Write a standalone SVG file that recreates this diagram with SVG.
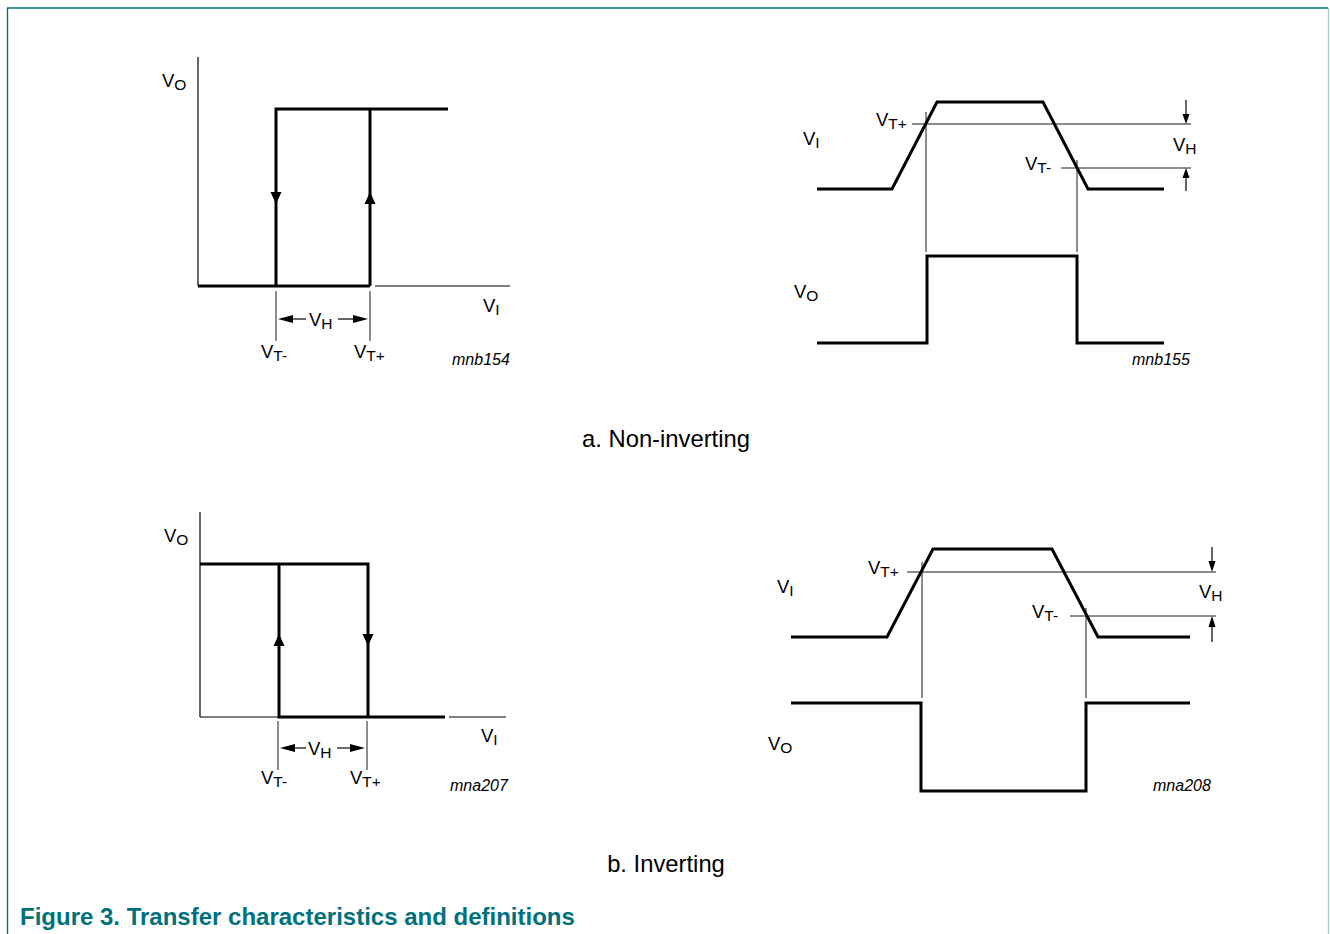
<svg xmlns="http://www.w3.org/2000/svg" width="1330" height="934" viewBox="0 0 1330 934">
<style>
.thick{fill:none;stroke:#000;stroke-width:3;stroke-linejoin:miter;stroke-linecap:butt}
.thin{fill:none;stroke:#000;stroke-width:1.2}
.hair{fill:none;stroke:#000;stroke-width:0.9}
.lbl{font-family:"Liberation Sans",Arial,sans-serif;font-size:18.5px;fill:#000}
.sub{font-size:15.5px}
.code{font-family:"Liberation Sans",Arial,sans-serif;font-size:16px;font-style:italic;fill:#000}
.cap{font-family:"Liberation Sans",Arial,sans-serif;font-size:23.8px;fill:#000}
.fig{font-family:"Liberation Sans",Arial,sans-serif;font-size:24px;font-weight:bold;fill:#00717c}
.ah{fill:#000;stroke:none}
</style>
<rect width="1330" height="934" fill="#fff"/>
<g id="frame">
<line x1="7" y1="8" x2="1328" y2="8" stroke="#00717c" stroke-width="1.6"/>
<line x1="7.5" y1="8" x2="7.5" y2="934" stroke="#00717c" stroke-width="1.4"/>
<line x1="1328.5" y1="8" x2="1328.5" y2="934" stroke="#a9cdd1" stroke-width="1.4"/>
</g>

<g id="panel-a-transfer">
<g id="a-axes">
<line class="thin" x1="198" y1="57" x2="198" y2="286"/>
<line class="thin" x1="375" y1="286" x2="510" y2="286"/>
</g>
<g id="a-loop">
<polyline class="thick" points="198,286 370,286"/>
<polyline class="thick" points="448,109 276,109 276,286"/>
<polyline class="thick" points="370,286 370,109"/>
<polygon class="ah" points="270.5,192 281.5,192 276,204"/>
<polygon class="ah" points="364.5,204 375.5,204 370,192"/>
</g>
<g id="a-vh">
<line class="hair" x1="276" y1="291" x2="276" y2="341"/>
<line class="hair" x1="370" y1="291" x2="370" y2="341"/>
<line class="thin" x1="288" y1="319" x2="306" y2="319"/>
<line class="thin" x1="338" y1="319" x2="358" y2="319"/>
<polygon class="ah" points="278,319 293,315 293,323"/>
<polygon class="ah" points="368,319 353,315 353,323"/>
</g>
<text class="lbl" x="162" y="87">V<tspan class="sub" dy="3">O</tspan></text>
<text class="lbl" x="483" y="312">V<tspan class="sub" dy="3">I</tspan></text>
<text class="lbl" x="309" y="326">V<tspan class="sub" dy="3">H</tspan></text>
<text class="lbl" x="261" y="358">V<tspan class="sub" dy="3">T-</tspan></text>
<text class="lbl" x="354" y="358">V<tspan class="sub" dy="3">T+</tspan></text>
<text class="code" x="452" y="365">mnb154</text>
</g>

<g id="panel-a-timing">
<g id="a-vi">
<polyline class="thick" points="817,189 892,189 937,102 1043,102 1088,189 1164,189"/>
<line class="hair" x1="912" y1="124" x2="1191" y2="124"/>
<line class="hair" x1="1061" y1="168" x2="1191" y2="168"/>
<line class="thin" x1="1186" y1="100" x2="1186" y2="116"/>
<polygon class="ah" points="1182.5,114 1189.5,114 1186,124"/>
<line class="thin" x1="1186" y1="178" x2="1186" y2="191"/>
<polygon class="ah" points="1182.5,178 1189.5,178 1186,168"/>
</g>
<g id="a-guides">
<line class="hair" x1="926" y1="112" x2="926" y2="252"/>
<line class="hair" x1="1077" y1="160" x2="1077" y2="252"/>
</g>
<g id="a-vo">
<polyline class="thick" points="817,343 927,343 927,256 1077,256 1077,343 1164,343"/>
</g>
<text class="lbl" x="876" y="126">V<tspan class="sub" dy="3">T+</tspan></text>
<text class="lbl" x="803" y="145">V<tspan class="sub" dy="3">I</tspan></text>
<text class="lbl" x="1173" y="151">V<tspan class="sub" dy="3">H</tspan></text>
<text class="lbl" x="1025" y="170">V<tspan class="sub" dy="3">T-</tspan></text>
<text class="lbl" x="794" y="298">V<tspan class="sub" dy="3">O</tspan></text>
<text class="code" x="1132" y="365">mnb155</text>
</g>

<text class="cap" x="666" y="447" text-anchor="middle">a. Non-inverting</text>

<g id="panel-b-transfer">
<g id="b-axes">
<line class="thin" x1="200" y1="512" x2="200" y2="717"/>
<line class="thin" x1="200" y1="717" x2="279" y2="717"/>
<line class="thin" x1="449" y1="717" x2="506" y2="717"/>
</g>
<g id="b-loop">
<polyline class="thick" points="200,564 368,564 368,717"/>
<polyline class="thick" points="279,564 279,717 445,717"/>
<polygon class="ah" points="273.5,646 284.5,646 279,634"/>
<polygon class="ah" points="362.5,634 373.5,634 368,646"/>
</g>
<g id="b-vh">
<line class="hair" x1="278" y1="721" x2="278" y2="770"/>
<line class="hair" x1="367" y1="721" x2="367" y2="770"/>
<line class="thin" x1="290" y1="748" x2="306" y2="748"/>
<line class="thin" x1="337" y1="748" x2="355" y2="748"/>
<polygon class="ah" points="280,748 295,744 295,752"/>
<polygon class="ah" points="365,748 350,744 350,752"/>
</g>
<text class="lbl" x="164" y="542">V<tspan class="sub" dy="3">O</tspan></text>
<text class="lbl" x="481" y="742">V<tspan class="sub" dy="3">I</tspan></text>
<text class="lbl" x="308" y="755">V<tspan class="sub" dy="3">H</tspan></text>
<text class="lbl" x="261" y="784">V<tspan class="sub" dy="3">T-</tspan></text>
<text class="lbl" x="350" y="784">V<tspan class="sub" dy="3">T+</tspan></text>
<text class="code" x="450" y="791">mna207</text>
</g>

<g id="panel-b-timing">
<g id="b-vi">
<polyline class="thick" points="791,637 887,637 933,549 1052,549 1098,637 1190,637"/>
<line class="hair" x1="907" y1="572" x2="1216" y2="572"/>
<line class="hair" x1="1070" y1="616" x2="1216" y2="616"/>
<line class="thin" x1="1212" y1="547" x2="1212" y2="563"/>
<polygon class="ah" points="1208.5,561 1215.5,561 1212,572"/>
<line class="thin" x1="1212" y1="626" x2="1212" y2="642"/>
<polygon class="ah" points="1208.5,627 1215.5,627 1212,616"/>
</g>
<g id="b-guides">
<line class="hair" x1="922" y1="562" x2="922" y2="698"/>
<line class="hair" x1="1086" y1="608" x2="1086" y2="698"/>
</g>
<g id="b-vo">
<polyline class="thick" points="791,703 921,703 921,791 1086,791 1086,703 1190,703"/>
</g>
<text class="lbl" x="868" y="574">V<tspan class="sub" dy="3">T+</tspan></text>
<text class="lbl" x="777" y="593">V<tspan class="sub" dy="3">I</tspan></text>
<text class="lbl" x="1199" y="598">V<tspan class="sub" dy="3">H</tspan></text>
<text class="lbl" x="1032" y="618">V<tspan class="sub" dy="3">T-</tspan></text>
<text class="lbl" x="768" y="750">V<tspan class="sub" dy="3">O</tspan></text>
<text class="code" x="1153" y="791">mna208</text>
</g>

<text class="cap" x="666" y="872" text-anchor="middle">b. Inverting</text>

<text class="fig" x="20" y="925">Figure 3. Transfer characteristics and definitions</text>
</svg>
